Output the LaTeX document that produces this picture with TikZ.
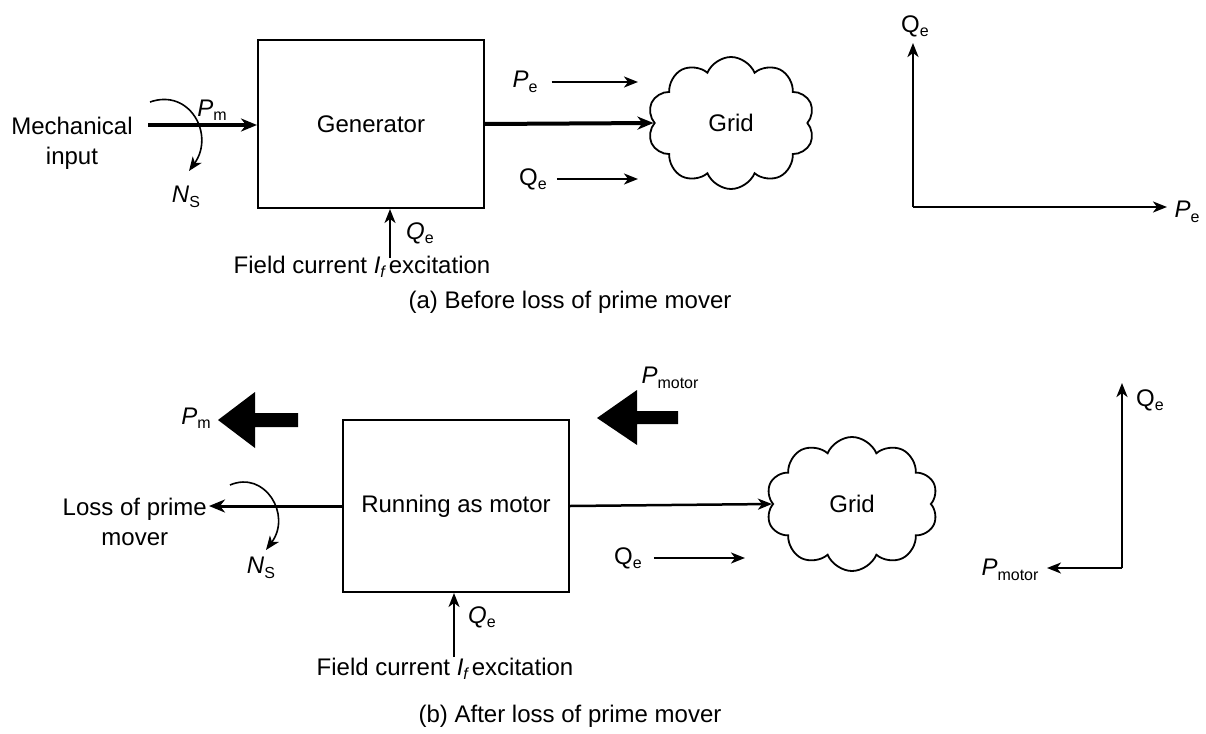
\documentclass[tikz,border=0pt]{standalone}
\usepackage{fontspec}
\setmainfont{Liberation Sans}
\usetikzlibrary{shapes.symbols,arrows.meta}
\newcommand{\lbl}[2]{\textit{#1}\raisebox{-0.35ex}{\fontsize{16}{16}\selectfont #2}}
\newcommand{\lblu}[2]{#1\raisebox{-0.35ex}{\fontsize{16}{16}\selectfont #2}}
\newcommand{\lbli}[2]{\textit{#1}\raisebox{-0.35ex}{\fontsize{16}{16}\selectfont\itshape #2}}
\begin{document}
\begin{tikzpicture}[x=1pt,y=-1pt,
  every node/.style={font=\fontsize{24}{30}\selectfont, inner sep=0pt},
  blk/.style={draw, line width=2pt, minimum width=226pt, minimum height=168pt},
  cloudnode/.style={draw, cloud, cloud puffs=10, cloud puff arc=135, aspect=1.25, line width=1.8pt, inner sep=0pt},
  arr/.style={line width=2pt, -{Stealth[length=14pt,width=11pt,inset=4pt]}},
  thk/.style={line width=3.5pt, -{Stealth[length=16pt,width=13pt,inset=5pt]}},
  fatarrow/.style={fill=black, draw=none}
]
\useasboundingbox (0,0) rectangle (1206,733);

% ---------- (a) ----------
\node[blk] (gen) at (371,124) {Generator};
\node[align=center] (mech) at (72,143) {Mechanical\\input};
\coordinate (minA) at (148,125);
\draw[thk] (minA) -- (gen.west |- minA);
\node (pm1) at (212,110) {\lbl{P}{m}};
\coordinate (c1s) at (150,102);
\coordinate (c1e) at (189,171);
\draw[arr, line width=1.6pt] (c1s) .. controls (190,88) and (215,135) .. (c1e);
\node (ns1) at (186,197) {\lbl{N}{S}};

\node[cloudnode, minimum width=167pt, minimum height=132pt] (grid1) at (731,123) {Grid};
\draw[thk, line width=4pt] (gen.east) -- (grid1.west);

\node (pe1) at (525,82) {\lbl{P}{e}};
\coordinate (pe1e) at (638,82);
\draw[arr] ([xshift=14pt]pe1.east) -- (pe1e);
\node (qe1) at (533,179) {\lblu{Q}{e}};
\coordinate (qe1e) at (638,179);
\draw[arr] ([xshift=10pt]qe1.east) -- (qe1e);

\coordinate (fc1) at (390,258);
\draw[arr, line width=1.6pt] (fc1) -- (fc1 |- gen.south);
\node (qf1) at (420,233) {\lbl{Q}{e}};
\node (fct1) at (362,267) {Field current \lbli{I}{f}\,excitation};
\node (capa) at (570,302) {(a) Before loss of prime mover};

\coordinate (o1) at (913,207);
\coordinate (qy1) at (913,43);
\coordinate (px1) at (1167,207);
\draw[arr, line width=2.4pt] (o1) -- (qy1);
\draw[arr, line width=2.4pt] (o1) -- (px1);
\node (qa1) at (915,26) {\lblu{Q}{e}};
\node (pa1) at (1187,212) {\lbl{P}{e}};

% ---------- (b) ----------
\node[blk, minimum height=172pt] (mot) at (456,506) {Running as motor};
\coordinate (lp) at (209,506);
\draw[thk, line width=3pt] (mot.west) -- (lp);
\node[align=center, anchor=east] (loss) at (207,522) {Loss of prime\\mover};
\coordinate (c2s) at (230,485);
\coordinate (c2e) at (266,550);
\draw[arr, line width=1.6pt] (c2s) .. controls (265,470) and (292,515) .. (c2e);
\node (ns2) at (261,568) {\lbl{N}{S}};

\fill[fatarrow] (218,420) -- (255,392) -- (255,413) -- (298,413) -- (298,427) -- (255,427) -- (255,448) -- cycle;
\node (pm2) at (196,418) {\lbl{P}{m}};
\fill[fatarrow] (597,418) -- (637,390) -- (637,411) -- (678,411) -- (678,424) -- (637,424) -- (637,445) -- cycle;
\node (pmot) at (670,378) {\lblu{\textit{P}}{motor}};

\node[cloudnode, minimum width=172pt, minimum height=134pt] (grid2) at (852,504) {Grid};
\draw[arr, line width=2.5pt] (mot.east) -- (grid2.west);

\node (qe2) at (628,558) {\lblu{Q}{e}};
\coordinate (qe2e) at (745,558);
\draw[arr] ([xshift=12pt]qe2.east) -- (qe2e);

\coordinate (fc2) at (454,657);
\draw[arr, line width=1.6pt] (fc2) -- (fc2 |- mot.south);
\node (qf2) at (482,617) {\lbl{Q}{e}};
\node (fct2) at (445,669) {Field current \lbli{I}{f}\,excitation};
\node (capb) at (570,716) {(b) After loss of prime mover};

\coordinate (o2) at (1122,568);
\coordinate (qy2) at (1122,383);
\coordinate (px2) at (1047,568);
\draw[arr, line width=2.4pt] (o2) -- (qy2);
\draw[arr, line width=1.8pt] (o2) -- (px2);
\node (qa2) at (1150,400) {\lblu{Q}{e}};
\node (pa2) at (1010,570) {\lblu{\textit{P}}{motor}};
\end{tikzpicture}
\end{document}
